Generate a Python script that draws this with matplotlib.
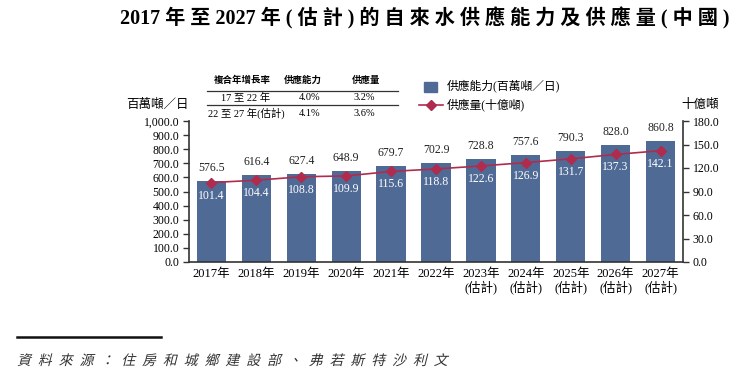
import matplotlib
matplotlib.use("Agg")
import matplotlib.pyplot as plt
import matplotlib.patches as mpatches
from matplotlib.lines import Line2D
from matplotlib.ticker import FuncFormatter, MultipleLocator
from matplotlib.textpath import TextPath
from matplotlib.font_manager import FontProperties
from matplotlib.transforms import Affine2D

YEARS = ["2017年", "2018年", "2019年", "2020年", "2021年", "2022年",
         "2023年\n(估計)", "2024年\n(估計)", "2025年\n(估計)", "2026年\n(估計)", "2027年\n(估計)"]
CAPACITY = [576.5, 616.4, 627.4, 648.9, 679.7, 702.9, 728.8, 757.6, 790.3, 828.0, 860.8]
SUPPLY = [101.4, 104.4, 108.8, 109.9, 115.6, 118.8, 122.6, 126.9, 131.7, 137.3, 142.1]

CAGR_HEAD = ["複合年增長率", "供應能力", "供應量"]
CAGR_ROWS = [["17 至 22 年", "4.0%", "3.2%"],
             ["22 至 27 年(估計)", "4.1%", "3.6%"]]

TITLE = "2017 年 至 2027 年 ( 估 計 ) 的 自 來 水 供 應 能 力 及 供 應 量 ( 中 國 )"
SOURCE = "資料來源：住房和城鄉建設部、弗若斯特沙利文"

BAR_COLOR = "#506a96"
LINE_COLOR = "#b02c4e"
FONT = ["Liberation Serif", "Noto Sans CJK TC"]

plt.rcParams["font.family"] = FONT
plt.rcParams["font.size"] = 8.5

W, H = 743, 378


def fx(px):
    return px / W


def fy(py):
    return 1 - py / H


fig = plt.figure(figsize=(W / 100, H / 100), dpi=100)
fig.patch.set_facecolor("white")

ax = fig.add_axes([fx(189), fy(262), fx(683) - fx(189), fy(121) - fy(262)])
ax2 = ax.twinx()

x = list(range(len(YEARS)))
ax.bar(x, CAPACITY, width=0.65, color=BAR_COLOR, zorder=2)
ax2.plot(x, SUPPLY, color=LINE_COLOR, lw=1.2, marker="D", markersize=5.5, zorder=3)

for i, v in enumerate(CAPACITY):
    ax.annotate(f"{v:.1f}", (i, v), xytext=(0, 5), textcoords="offset points",
                ha="center", va="bottom", color="#222222")
for i, v in enumerate(SUPPLY):
    ax2.annotate(f"{v:.1f}", (i, v), xytext=(0, -5), textcoords="offset points",
                 ha="center", va="top", color="white")

ax.set_xlim(-0.5, len(YEARS) - 0.5)
ax.set_ylim(0, 1000)
ax2.set_ylim(0, 180)
ax.yaxis.set_major_locator(MultipleLocator(100))
ax2.yaxis.set_major_locator(MultipleLocator(30))
ax.yaxis.set_major_formatter(FuncFormatter(lambda v, p: f"{v:,.1f}"))
ax2.yaxis.set_major_formatter(FuncFormatter(lambda v, p: f"{v:.1f}"))
ax.set_xticks(x)
ax.set_xticklabels(YEARS, linespacing=1.1)
ax.tick_params(axis="x", length=0, pad=4, labelsize=9)
ax.tick_params(axis="y", length=4, width=1, color="#333333", pad=3)
ax2.tick_params(axis="y", length=4, width=1, color="#333333", pad=3)

for a in (ax, ax2):
    a.spines["top"].set_visible(False)
    for s in a.spines.values():
        s.set_color("#333333")
        s.set_linewidth(1.2)
ax.spines["right"].set_visible(False)
ax2.spines["left"].set_visible(False)
ax2.spines["bottom"].set_visible(False)

# axis unit labels
fig.text(fx(157), fy(105), "百萬噸／日", ha="center", va="center", fontsize=9)
fig.text(fx(700), fy(105), "十億噸", ha="center", va="center", fontsize=9)

# CAGR table
head_x = [242, 303, 366]
col_x = [246, 310, 364]
for cx, t in zip(head_x, CAGR_HEAD):
    fig.text(fx(cx), fy(80), t, ha="center", va="center", fontsize=6.8, fontweight="bold")
for ry, row in zip([97.5, 113], CAGR_ROWS):
    for cx, t in zip(col_x, row):
        fig.text(fx(cx), fy(ry), t, ha="center", va="center", fontsize=7.5)
for ly in [90.5, 105]:
    fig.add_artist(Line2D([fx(207), fx(398)], [fy(ly), fy(ly)], color="#333333", lw=0.9))

# legend
fig.add_artist(mpatches.Rectangle((fx(424), fy(92)), fx(13), fy(82) - fy(92),
                                  color=BAR_COLOR, transform=fig.transFigure))
fig.text(fx(447), fy(86), "供應能力(百萬噸／日)", ha="left", va="center", fontsize=8.5)
fig.add_artist(Line2D([fx(419), fx(443)], [fy(105), fy(105)], color=LINE_COLOR, lw=1.2))
fig.add_artist(Line2D([fx(431)], [fy(105)], color=LINE_COLOR, marker="D", markersize=5, lw=0))
fig.text(fx(447), fy(105), "供應量(十億噸)", ha="left", va="center", fontsize=8.5)

# title
fig.text(fx(425), fy(18), TITLE, ha="center", va="center", fontsize=14.5, fontweight="bold")

# source footer (slanted like the original)
fig.add_artist(Line2D([fx(17), fx(161)], [fy(337), fy(337)], color="#111111", lw=1.8))
src = "  ".join(SOURCE)
tp = TextPath((0, 0), src, size=10, prop=FontProperties(family=FONT))
tr = Affine2D().skew_deg(14, 0).scale(100 / 72).translate(17, H - 365)
fig.add_artist(mpatches.PathPatch(tp, transform=tr, color="#333333", lw=0))

fig.savefig("out.png", dpi=100)
